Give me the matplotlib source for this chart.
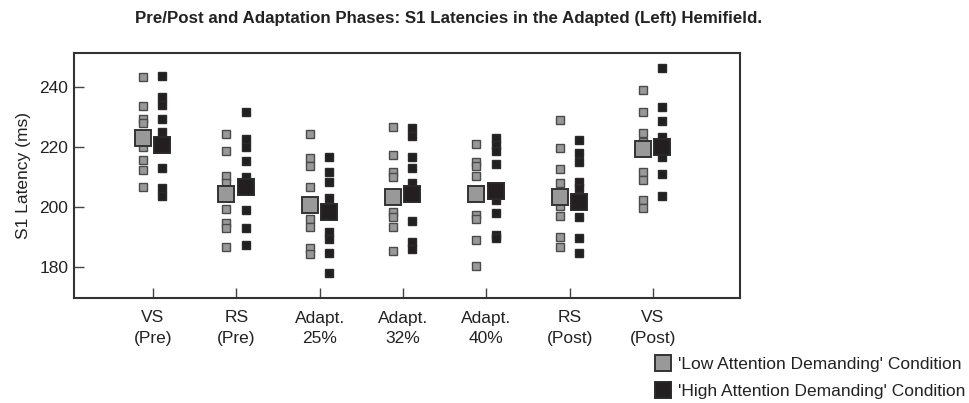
import matplotlib
matplotlib.use("Agg")
import matplotlib.pyplot as plt
from matplotlib.lines import Line2D

plt.rcParams['font.family'] = ['Liberation Sans', 'DejaVu Sans']

categories = ["VS\n(Pre)", "RS\n(Pre)", "Adapt.\n25%", "Adapt.\n32%", "Adapt.\n40%", "RS\n(Post)", "VS\n(Post)"]

low_points = [
    [243.2, 233.8, 229.2, 227.9, 220.1, 215.8, 212.3, 206.7],
    [224.3, 218.6, 210.3, 208.1, 199.3, 194.8, 193.1, 186.8],
    [224.3, 216.2, 213.7, 206.7, 195.9, 193.4, 186.4, 184.2],
    [226.8, 217.3, 211.8, 209.9, 198.2, 196.6, 193.4, 185.4],
    [220.9, 215.1, 213.8, 210.2, 197.3, 195.9, 189.0, 180.4],
    [229.0, 219.8, 212.6, 207.9, 200.3, 197.0, 190.1, 186.8],
    [239.0, 231.8, 224.8, 221.8, 211.6, 209.0, 202.3, 199.8],
]
high_points = [
    [243.7, 236.8, 234.0, 229.4, 225.1, 213.1, 206.2, 203.6],
    [231.8, 222.6, 219.9, 215.3, 210.1, 198.9, 193.1, 187.2],
    [216.6, 211.8, 208.3, 202.9, 191.8, 189.2, 184.8, 177.9],
    [226.2, 223.7, 216.6, 213.0, 207.9, 195.4, 188.4, 186.0],
    [222.9, 220.7, 218.8, 214.2, 202.3, 197.9, 190.7, 189.6],
    [222.3, 217.9, 215.1, 208.4, 206.2, 196.6, 189.6, 184.8],
    [246.2, 233.2, 228.7, 223.2, 216.8, 210.9, 203.8],
]
low_means = [223.1, 204.3, 200.7, 203.2, 204.2, 203.2, 219.2]
high_means = [220.7, 206.6, 198.4, 204.2, 205.4, 201.8, 219.9]

yticks = [180, 200, 220, 240]

GRAY_FACE = "#999999"
GRAY_EDGE = "#4a4a4a"
BLACK_FACE = "#231f20"
BLACK_EDGE = "#2a2a2a"
TEXT = "#222222"

fig = plt.figure(figsize=(9.69, 4.03), dpi=100)
ax = fig.add_axes([74/969, 1-298/403, (740-74)/969, (298-53)/403])

off_low, off_high = -0.12, 0.11
for i in range(len(categories)):
    ax.plot([i + off_low]*len(low_points[i]), low_points[i], 's', ms=5.8,
            mfc=GRAY_FACE, mec=GRAY_EDGE, mew=1.0, ls='none', zorder=3)
    ax.plot([i + off_high]*len(high_points[i]), high_points[i], 's', ms=5.8,
            mfc=BLACK_FACE, mec=BLACK_EDGE, mew=1.0, ls='none', zorder=3)
for i in range(len(categories)):
    ax.plot([i + off_low], [low_means[i]], 's', ms=11, mfc=GRAY_FACE,
            mec="#333333", mew=1.4, ls='none', zorder=4)
    ax.plot([i + off_high], [high_means[i]], 's', ms=11.5, mfc=BLACK_FACE,
            mec=BLACK_EDGE, mew=1.4, ls='none', zorder=4)

ax.set_xlim(-0.948, 7.044)
ax.set_ylim(169.7, 251.3)
ax.set_xticks(range(len(categories)))
ax.set_xticklabels(categories, fontsize=12.5, color=TEXT, linespacing=1.45)
ax.set_yticks(yticks)
ax.set_yticklabels([str(v) for v in yticks], fontsize=12.5, color=TEXT)
ax.tick_params(axis='both', direction='in', length=7, width=1.0, color="#444444")
ax.tick_params(axis='x', pad=9)
ax.tick_params(axis='y', pad=4)
for s in ax.spines.values():
    s.set_linewidth(1.5)
    s.set_color("#333333")
ax.set_ylabel("S1 Latency (ms)", fontsize=12.5, color=TEXT, labelpad=6)

fig.text(135/969, 1-18/403, "Pre/Post and Adaptation Phases: S1 Latencies in the Adapted (Left) Hemifield.",
         fontsize=12.2, fontweight='bold', ha='left', va='center', color=TEXT)

handles = [
    Line2D([], [], marker='s', ls='none', ms=11.5, mfc=GRAY_FACE, mec="#333333", mew=1.4),
    Line2D([], [], marker='s', ls='none', ms=11.5, mfc=BLACK_FACE, mec=BLACK_EDGE, mew=1.4),
]
fig.legend(handles, ["'Low Attention Demanding' Condition", "'High Attention Demanding' Condition"],
           loc='upper left', bbox_to_anchor=(654/969, 1-357/403), frameon=False,
           fontsize=12.5, handlelength=1.0, handletextpad=0.38, labelspacing=0.7,
           borderpad=0, borderaxespad=0, labelcolor=TEXT)

fig.savefig("out.png", dpi=100)
